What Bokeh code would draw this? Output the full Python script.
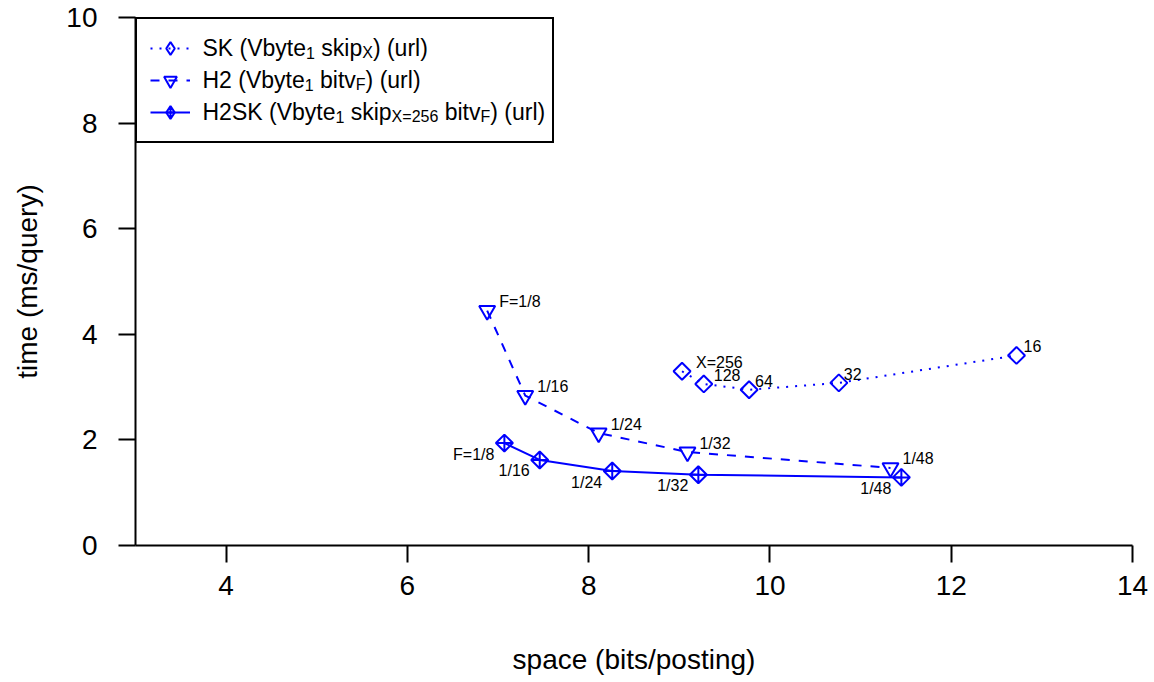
import numpy as np
from bokeh.plotting import figure
from bokeh.models import Range1d, FixedTicker, ColumnDataSource, Legend, LegendItem, Label
from bokeh.core.properties import value
from bokeh.embed import file_html
from bokeh.resources import INLINE

# ---------------- data ----------------
sk_space = [9.03, 9.27, 9.77, 10.76, 12.72]
sk_time = [3.30, 3.06, 2.95, 3.08, 3.60]
sk_labels = ["X=256", "128", "64", "32", "16"]

h2_space = [6.88, 7.30, 8.11, 9.09, 11.33]
h2_time = [4.45, 2.84, 2.13, 1.77, 1.47]
h2_labels = ["F=1/8", "1/16", "1/24", "1/32", "1/48"]

h2sk_space = [7.07, 7.46, 8.26, 9.21, 11.45]
h2sk_time = [1.94, 1.62, 1.41, 1.34, 1.29]
h2sk_labels = ["F=1/8", "1/16", "1/24", "1/32", "1/48"]

x_ticks = [4, 6, 8, 10, 12, 14]
y_ticks = [0, 2, 4, 6, 8, 10]
x_lim = (3, 14)
y_lim = (0, 10)

x_title = "space (bits/posting)"
y_title = "time (ms/query)"

# legend texts: (segment, is_subscript)
legend_rows = [
    [("SK (Vbyte", 0), ("1", 1), (" skip", 0), ("X", 1), (") (url)", 0)],
    [("H2 (Vbyte", 0), ("1", 1), (" bitv", 0), ("F", 1), (") (url)", 0)],
    [("H2SK (Vbyte", 0), ("1", 1), (" skip", 0), ("X=256", 1), (" bitv", 0), ("F", 1), (") (url)", 0)],
]

# ---------------- styling ----------------
BLUE = "#0000ff"
FONT = "Liberation Sans"
AX_FS = 28
LEG_FS = 23
SUB_FS = 16
PT_FS = 16

p = figure(width=1154, height=682, output_backend="svg", toolbar_location=None,
           x_range=Range1d(*x_lim), y_range=Range1d(*y_lim),
           min_border_left=135, min_border_right=22, min_border_top=17, min_border_bottom=137,
           x_axis_label=x_title, y_axis_label=y_title)
p.outline_line_color = None
p.xgrid.visible = False
p.ygrid.visible = False
p.background_fill_color = "white"
p.border_fill_color = "white"

p.xaxis[0].ticker = FixedTicker(ticks=x_ticks)
p.yaxis[0].ticker = FixedTicker(ticks=y_ticks)
for ax in (p.xaxis[0], p.yaxis[0]):
    ax.axis_line_color = "black"
    ax.axis_line_width = 2
    ax.major_tick_line_color = "black"
    ax.major_tick_line_width = 2
    ax.major_tick_in = 0
    ax.major_tick_out = 17
    ax.minor_tick_line_color = None
    ax.major_label_text_font = FONT
    ax.major_label_text_font_size = f"{AX_FS}px"
    ax.major_label_text_color = "black"
    ax.axis_label_text_font = FONT
    ax.axis_label_text_font_size = f"{AX_FS}px"
    ax.axis_label_text_font_style = "normal"
    ax.axis_label_text_color = "black"
p.xaxis[0].major_label_standoff = 13
p.xaxis[0].axis_label_standoff = 46
p.yaxis[0].major_label_standoff = 21
p.yaxis[0].axis_label_standoff = 20

# ---------------- series ----------------
sk_src = ColumnDataSource(dict(x=sk_space, y=sk_time, label=sk_labels,
                               dx=[14, 10, 6, 5, 7]))
h2_src = ColumnDataSource(dict(x=h2_space, y=h2_time, label=h2_labels))
h2sk_src = ColumnDataSource(dict(x=h2sk_space, y=h2sk_time, label=h2sk_labels))

line_kw = dict(line_color=BLUE, line_width=2)
mark_kw = dict(line_color=BLUE, line_width=2, fill_color=None)

l1 = p.line("x", "y", source=sk_src, line_dash="2 7", **line_kw)
m1 = p.scatter("x", "y", source=sk_src, marker="square", angle=np.pi / 4, size=12, **mark_kw)

l2 = p.line("x", "y", source=h2_src, line_dash="9 9", **line_kw)
m2 = p.scatter("x", "y", source=h2_src, marker="inverted_triangle", size=16, **mark_kw)

l3 = p.line("x", "y", source=h2sk_src, **line_kw)
m3 = p.scatter("x", "y", source=h2sk_src, marker="square_x", angle=np.pi / 4, size=12, **mark_kw)

# legend-only marker renderers (legend keys ignore rotation)
k1 = p.scatter("x", "y", source=sk_src, marker="diamond", size=12, visible=False, **mark_kw)
k3 = p.scatter("x", "y", source=h2sk_src, marker="diamond_cross", size=12, visible=False, **mark_kw)

# point labels
p.text("x", "y", text="label", source=sk_src, x_offset="dx", y_offset=-9,
       text_font=value(FONT), text_font_size=f"{PT_FS}px", text_color="black",
       text_align="left", text_baseline="middle")
p.text("x", "y", text="label", source=h2_src, x_offset=12, y_offset=-9,
       text_font=value(FONT), text_font_size=f"{PT_FS}px", text_color="black",
       text_align="left", text_baseline="middle")
p.text("x", "y", text="label", source=h2sk_src, x_offset=-10, y_offset=11,
       text_font=value(FONT), text_font_size=f"{PT_FS}px", text_color="black",
       text_align="right", text_baseline="middle")

# ---------------- legend ----------------
legend = Legend(items=[LegendItem(label=" ", renderers=[l1, k1]),
                       LegendItem(label=" ", renderers=[l2, m2]),
                       LegendItem(label=" ", renderers=[l3, k3])],
                location="top_left", margin=0, padding=13, spacing=0,
                glyph_width=40, glyph_height=32, label_height=32, label_width=335,
                label_standoff=14, border_line_color="black", border_line_width=2,
                border_line_alpha=1.0, inactive_fill_alpha=0.0,
                background_fill_alpha=0.0)
p.add_layout(legend)

# legend label text, laid out with Arial/Liberation Sans advance widths
ADV = {' ': 278, '(': 333, ')': 333, '=': 584, 'F': 611, 'H': 722, 'K': 667, 'S': 667,
       'V': 667, 'X': 667, 'b': 556, 'e': 556, 'i': 222, 'k': 500, 'l': 222, 'p': 556,
       'r': 333, 's': 500, 't': 278, 'u': 556, 'v': 500, 'y': 500}
for d in "0123456789":
    ADV[d] = 556


def text_width(s, fs):
    return sum(ADV.get(c, 556) for c in s) * fs / 1000.0


text_left = 67
row_base = [30, 62, 94]
for row, base in zip(legend_rows, row_base):
    cursor = text_left
    for seg, is_sub in row:
        fs = SUB_FS if is_sub else LEG_FS
        lead = len(seg) - len(seg.lstrip(" "))
        cursor += text_width(" " * lead, fs)
        s = seg.lstrip(" ")
        p.add_layout(Label(x=x_lim[0], y=y_lim[1], x_units="data", y_units="data",
                           x_offset=cursor, y_offset=-(base + (5 if is_sub else 0)),
                           text=s, text_font=FONT, text_font_size=f"{fs}px",
                           text_color="black", text_align="left",
                           text_baseline="alphabetic"))
        cursor += text_width(s, fs)

open("out.html", "w").write(file_html(p, INLINE))
